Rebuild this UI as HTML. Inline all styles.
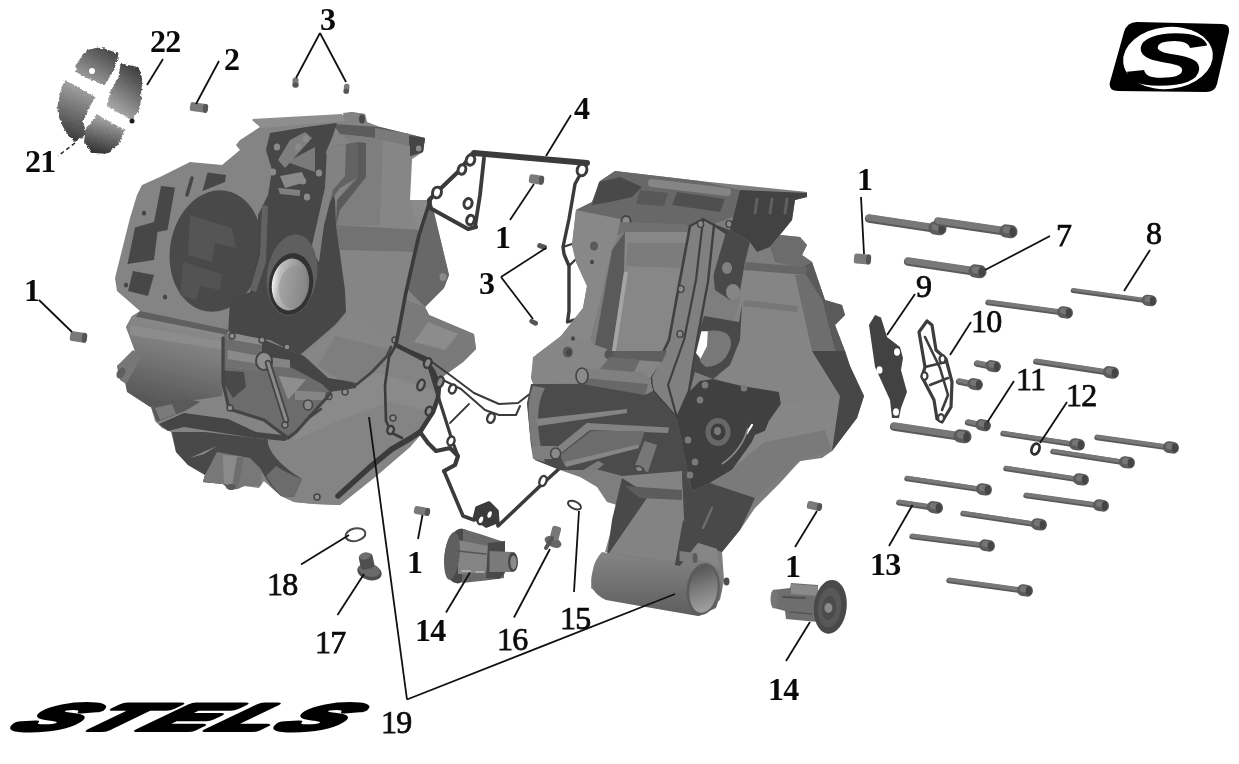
<!DOCTYPE html>
<html><head><meta charset="utf-8"><title>STELS crankcase diagram</title>
<style>
html,body{margin:0;padding:0;background:#fff;}
body{width:1239px;height:764px;overflow:hidden;position:relative;}
svg{display:block;position:absolute;left:0;top:0;}
.lb{font-family:"Liberation Serif",serif;fill:#0a0a0a;}
.logo{font-family:"Liberation Sans",sans-serif;font-weight:bold;font-style:italic;fill:#000;}
</style></head><body>
<svg width="1239" height="764" viewBox="0 0 1239 764">
<defs>
<filter id="b1" x="-5%" y="-5%" width="110%" height="110%"><feGaussianBlur stdDeviation="0.7"/></filter>
<filter id="b2" x="-5%" y="-5%" width="110%" height="110%"><feGaussianBlur stdDeviation="1.2"/></filter>
<linearGradient id="bear" x1="0" y1="0" x2="1" y2="0"><stop offset="0" stop-color="#f4f4f4"/><stop offset="0.18" stop-color="#bdbdbd"/><stop offset="1" stop-color="#7a7a7a"/></linearGradient>
<linearGradient id="tube" x1="0" y1="0" x2="0" y2="1"><stop offset="0" stop-color="#8a8a8a"/><stop offset="1" stop-color="#5e5e5e"/></linearGradient>
<linearGradient id="shell" gradientUnits="userSpaceOnUse" x1="60" y1="60" x2="140" y2="140"><stop offset="0" stop-color="#a8a8a8"/><stop offset="0.45" stop-color="#666"/><stop offset="1" stop-color="#1c1c1c"/></linearGradient>
<linearGradient id="sh1" gradientUnits="userSpaceOnUse" x1="105" y1="48" x2="85" y2="82"><stop offset="0" stop-color="#4a4a4a"/><stop offset="1" stop-color="#a0a0a0"/></linearGradient>
<linearGradient id="sh2" gradientUnits="userSpaceOnUse" x1="140" y1="68" x2="110" y2="108"><stop offset="0" stop-color="#3a3a3a"/><stop offset="1" stop-color="#a8a8a8"/></linearGradient>
<linearGradient id="sh3" gradientUnits="userSpaceOnUse" x1="85" y1="88" x2="66" y2="138"><stop offset="0" stop-color="#a2a2a2"/><stop offset="1" stop-color="#3c3c3c"/></linearGradient>
<linearGradient id="sh4" gradientUnits="userSpaceOnUse" x1="108" y1="118" x2="98" y2="154"><stop offset="0" stop-color="#a6a6a6"/><stop offset="1" stop-color="#303030"/></linearGradient>
<filter id="rough" x="-10%" y="-10%" width="120%" height="120%"><feTurbulence type="fractalNoise" baseFrequency="0.35" numOctaves="2" seed="3" result="n"/><feDisplacementMap in="SourceGraphic" in2="n" scale="4" xChannelSelector="R" yChannelSelector="G"/><feGaussianBlur stdDeviation="0.5"/></filter>
<linearGradient id="tubein" x1="0" y1="0" x2="0.3" y2="1"><stop offset="0" stop-color="#4e4e4e"/><stop offset="0.5" stop-color="#777"/><stop offset="1" stop-color="#9c9c9c"/></linearGradient>
<linearGradient id="lblock" gradientUnits="userSpaceOnUse" x1="190" y1="325" x2="170" y2="405"><stop offset="0" stop-color="#8a8a8a"/><stop offset="0.35" stop-color="#7c7c7c"/><stop offset="1" stop-color="#585858"/></linearGradient>
</defs>
<rect width="1239" height="764" fill="#fff"/>
<g id="leftcase" filter="url(#b1)">
<polygon points="252,120 300,117 345,115 350,112 365,114 367,122 380,127 425,138 423,152 412,159 410,200 431,200 449,275 444,288 425,307 429,315 455,326 474,334 476,349 463,362 441,378 440,395 434,412 422,433 410,447 375,477 340,505 314,504 294,502 281,496 264,481 259,488 244,486 238,489 230,490 223,484 203,482 205,475 188,465 176,452 171,432 162,428 155,421 151,407 128,390 125,382 120,378 117,366 135,351 126,327 132,316 140,311 117,291 115,278 130,218 137,195 142,185 160,177 190,162 222,165 240,150 236,145 240,140 260,127" fill="#848484" />
<polygon points="252,119 342,114 346,121 262,128" fill="#8e8e8e" />
<polygon points="333,124 380,127 425,138 423,152 410,156 409,146 375,138 340,134" fill="#5c5c5c" />
<polygon points="375,128 410,134 409,146 375,138" fill="#7a7a7a" />
<polygon points="409,136 425,138 423,152 410,156" fill="#444444" />
<ellipse cx="418.7" cy="148.5" rx="2.8" ry="3" fill="#8a8a8a" />
<polygon points="343,113 352,112 365,114 367,124 345,122" fill="#838383" />
<ellipse cx="362" cy="119" rx="3" ry="4.5" fill="#4a4a4a" />
<polygon points="340,134 375,138 383,140 380,225 336,225 337,200 352,180 360,150" fill="#7e7e7e" />
<polygon points="358,142 366,143 366,177 340,210 336,225 337,200 358,177" fill="#5a5a5a" />
<polygon points="383,140 410,146 410,200 419,230 380,225" fill="#868686" />
<polygon points="336,225 419,230 414,252 340,250" fill="#727272" />
<polygon points="340,250 414,252 406,292 396,345 346,312 345,290" fill="#858585" />
<polygon points="431,200 449,275 444,288 425,307 408,290 419,235" fill="#686868" />
<polygon points="410,200 431,200 419,235" fill="#8a8a8a" />
<ellipse cx="443" cy="277" rx="3.5" ry="4" fill="#8a8a8a" />
<ellipse cx="216" cy="251" rx="46" ry="61" fill="#494949" transform="rotate(9 216 251)" />
<polygon points="270,133 306,127 337,123 332,138 326,152 335,200 336,225 345,290 346,312 335,325 300,355 285,348 270,340 228,335 230,300 250,292 258,250 258,215 268,195 272,170 266,150" fill="#474747" />
<polygon points="190,215 232,228 236,248 215,243 212,262 188,255" fill="#555555" />
<polygon points="183,262 222,274 220,290 200,286 196,300 180,295" fill="#535353" />
<polygon points="327,152 333,146 358,142 358,177 340,188 329,203 320,240 319,262 311,250 316,228 325,188" fill="#626262" />
<polygon points="327,152 333,146 346,144 345,176 333,190 324,225 319,262 311,250 316,228 325,188" fill="#828282" />
<polygon points="262,205 268,206 266,262 256,292 250,290 260,255" fill="#626262" />
<polygon points="287,162 315,147 315,172" fill="#7a7a7a" />
<polygon points="290,140 305,132 312,138 285,168 278,160" fill="#7e7e7e" />
<polygon points="280,176 302,172 306,182 285,188" fill="#8a8a8a" />
<polygon points="278,188 300,190 300,196 280,194" fill="#808080" />
<ellipse cx="277" cy="147" rx="3.2" ry="3.6" fill="#8a8a8a" />
<ellipse cx="298" cy="147" rx="3.2" ry="3.6" fill="#8a8a8a" />
<ellipse cx="306" cy="139" rx="3.2" ry="3.6" fill="#8a8a8a" />
<ellipse cx="273" cy="172" rx="3.2" ry="3.6" fill="#8a8a8a" />
<ellipse cx="303" cy="181" rx="3.2" ry="3.6" fill="#8a8a8a" />
<ellipse cx="307" cy="197" rx="3.2" ry="3.6" fill="#8a8a8a" />
<ellipse cx="319" cy="173" rx="3.2" ry="3.6" fill="#8a8a8a" />
<ellipse cx="292" cy="275" rx="25" ry="41" fill="#5e5e5e" transform="rotate(8 292 275)" />
<ellipse cx="291" cy="284" rx="22" ry="31" fill="#333333" transform="rotate(8 291 284)" />
<ellipse cx="290.5" cy="284.5" rx="18.6" ry="26" fill="url(#bear)" transform="rotate(8 290.5 284.5)" />
<ellipse cx="293" cy="287" rx="14" ry="21" fill="#8e8e8e" transform="rotate(8 293 287)" opacity="0.5"/>
<polygon points="161,186 175,187.5 167.5,230 157.5,232 154,260 127.5,264 135,227.5 154,222" fill="#474747" />
<polygon points="133,271 154,275 148,296 128,291" fill="#474747" />
<polygon points="207.5,172.5 226,175 225,182 202.5,191" fill="#474747" />
<polyline points="192,178 187,195" fill="none" stroke="#474747" stroke-width="3.5" stroke-linejoin="round" stroke-linecap="round" />
<ellipse cx="144" cy="213" rx="2.2" ry="2.5" fill="#474747" />
<ellipse cx="126" cy="285" rx="2.2" ry="2.5" fill="#474747" />
<ellipse cx="165" cy="297" rx="2.2" ry="2.5" fill="#474747" />
<ellipse cx="168" cy="199" rx="2.2" ry="2.5" fill="#474747" />
<polygon points="140,311 230,330 228,336 135,318" fill="#5e5e5e" />
<polygon points="132,316 228,335 225,353 222,396 150,407 127,392 125,382 135,351 126,327" fill="url(#lblock)" />
<polygon points="130,325 226,342 225,350 130,335" fill="#8c8c8c" />
<polygon points="117,366 133,350 142,356 126,384 120,380" fill="#777777" />
<ellipse cx="121" cy="373" rx="4" ry="6" fill="#606060" transform="rotate(30 121 373)" />
<polygon points="288,441 296,432 330,392 356,386 387,356 396,345 410,366 441,378 440,395 434,412 422,433 410,447 375,477 340,505 314,504 294,502 281,496 264,481" fill="#848484" />
<polygon points="296,432 330,392 356,386 372,372 396,378 438,392 434,412 390,402 340,420 292,442" fill="#8a8a8a" />
<polygon points="304,356 346.5,317 346,312 396,345 391,347 387,356 372,372 356,383 347,381 328,378" fill="#868686" />
<polygon points="335,336 392,350 387,356 372,372 356,383 340,380 318,366" fill="#7e7e7e" />
<polygon points="224,334 262,339 304,356 328,378 330,392 296,432 288,438 264,420 229,409 223,383 223,338" fill="#6c6c6c" />
<polygon points="262,339 304,356 328,378 347,381 356,383 356,388 330,392 322,384 300,372 290,367 273,358 262,352" fill="#454545" />
<polygon points="227.5,332 262,339 262,345 227.5,339" fill="#8c8c8c" />
<polygon points="227.5,350 260,356 259,371 227.5,367" fill="#8a8a8a" />
<polygon points="227.5,359 260,364 259,371 227.5,367" fill="#707070" />
<ellipse cx="264" cy="361" rx="8" ry="9" fill="#8e8e8e" stroke="#444" stroke-width="2"/>
<polygon points="273,357.5 290,360 290,368 273,366.5" fill="#848484" />
<polygon points="223.8,370.5 244,372 245.8,387 233,398 223.8,383" fill="#484848" />
<polyline points="268,363 286,420" fill="none" stroke="#444" stroke-width="6.5" stroke-linejoin="round" stroke-linecap="round" />
<polyline points="268,363 286,420" fill="none" stroke="#8a8a8a" stroke-width="3" stroke-linejoin="round" stroke-linecap="round" />
<polygon points="278.8,376 306,379.6 288,399.8" fill="#8e8e8e" />
<polygon points="295,390.6 328,392.4 327,400 295,400" fill="#858585" />
<ellipse cx="329" cy="396" rx="3" ry="3.5" fill="#909090" stroke="#444" stroke-width="1.4"/>
<polyline points="223,338 223,383 229,409 264,420 288,438 296,432 330,394" fill="none" stroke="#444444" stroke-width="3.2" stroke-linejoin="round" stroke-linecap="round" />
<polyline points="356,385 372,372 387,356 391,347" fill="none" stroke="#444444" stroke-width="2.8" stroke-linejoin="round" stroke-linecap="round" />
<ellipse cx="308" cy="405" rx="4.5" ry="5" fill="#8a8a8a" stroke="#444" stroke-width="1.6"/>
<polyline points="306,420 321,409" fill="none" stroke="#444" stroke-width="2.5" stroke-linejoin="round" stroke-linecap="round" />
<polygon points="159,424 184,413 228,419 256,432 291,436 285,441 255,438 184,427 168,431" fill="#444444" />
<polygon points="151,407 185,398 200,402 185,411 157,422" fill="#5a5a5a" />
<polygon points="155,408 172,404 176,414 160,420" fill="#7a7a7a" />
<polygon points="172,432 205,432 256,438 268,440 262,462 260,486 244,486 230,490 223,484 203,482 205,475 188,465 176,452" fill="#4a4a4a" />
<polygon points="190,458 217,446 204,454" fill="#8c8c8c" />
<polygon points="205,475 217,452 250,458 262,470 260,486 244,486 236,489 223,484 203,482" fill="#787878" />
<polygon points="222.7,455 244,457 237,488 224,483" fill="#8a8a8a" />
<polygon points="237,457 244,457 238,488 232,487" fill="#6e6e6e" />
<ellipse cx="231" cy="487" rx="5" ry="3" fill="#5a5a5a" />
<path d="M254,444 L267,438 Q268,458 302,479 L294,497 L281,496 Q258,476 254,444 Z" fill="#4a4a4a"/>
<path d="M276,466 Q288,474 302,479 L294,497 L281,496 Q272,486 266,476 Z" fill="#6c6c6c"/>
<ellipse cx="395" cy="340" rx="3" ry="3" fill="#8c8c8c" stroke="#454545" stroke-width="1.5"/>
<ellipse cx="393" cy="418" rx="3" ry="3" fill="#8c8c8c" stroke="#454545" stroke-width="1.5"/>
<ellipse cx="317" cy="497" rx="3" ry="3" fill="#8c8c8c" stroke="#454545" stroke-width="1.5"/>
<ellipse cx="345" cy="392" rx="3" ry="3" fill="#8c8c8c" stroke="#454545" stroke-width="1.5"/>
<ellipse cx="232" cy="336" rx="3" ry="3" fill="#8c8c8c" stroke="#454545" stroke-width="1.5"/>
<ellipse cx="262" cy="340" rx="3" ry="3" fill="#8c8c8c" stroke="#454545" stroke-width="1.5"/>
<ellipse cx="230" cy="408" rx="3" ry="3" fill="#8c8c8c" stroke="#454545" stroke-width="1.5"/>
<ellipse cx="285" cy="425" rx="3" ry="3" fill="#8c8c8c" stroke="#454545" stroke-width="1.5"/>
<ellipse cx="287" cy="347" rx="3" ry="3" fill="#8c8c8c" stroke="#454545" stroke-width="1.5"/>
<polygon points="425,307 429,315 455,326 474,334 476,349 463,362 441,378 425,360 396,345 406,300" fill="#7a7a7a" />
<polygon points="428,322 458,334 445,350 414,342" fill="#8c8c8c" />
</g>
<g id="gasket" filter="url(#b1)">
<polyline points="474,153 587,163" fill="none" stroke="#3a3a3a" stroke-width="6" stroke-linejoin="round" stroke-linecap="round" />
<polyline points="581.5,172 575,184 569,219 563,247 564,254 569,266 569,311 567.5,322 574,320" fill="none" stroke="#3a3a3a" stroke-width="3.4" stroke-linejoin="round" stroke-linecap="round" />
<polyline points="569,266 581,254" fill="none" stroke="#3a3a3a" stroke-width="2.4" stroke-linejoin="round" stroke-linecap="round" />
<polyline points="563,247 572,244" fill="none" stroke="#3a3a3a" stroke-width="2" stroke-linejoin="round" stroke-linecap="round" />
<polyline points="484,158 480,195 475,227" fill="none" stroke="#3a3a3a" stroke-width="3.8" stroke-linejoin="round" stroke-linecap="round" />
<polyline points="472,154 460,170 437,192 429,200 430,208 468,229 476,227" fill="none" stroke="#3a3a3a" stroke-width="4.2" stroke-linejoin="round" stroke-linecap="round" />
<polyline points="431,198 419,235 406,292 396,345" fill="none" stroke="#3a3a3a" stroke-width="3.6" stroke-linejoin="round" stroke-linecap="round" />
<ellipse cx="470.5" cy="160" rx="4.2" ry="5.2" fill="#fff" transform="rotate(15 470.5 160)" stroke="#3a3a3a" stroke-width="3"/>
<ellipse cx="462" cy="169.5" rx="3.8" ry="4.8" fill="#fff" transform="rotate(15 462 169.5)" stroke="#3a3a3a" stroke-width="3"/>
<ellipse cx="437" cy="192.5" rx="4.4" ry="5.4" fill="#fff" transform="rotate(15 437 192.5)" stroke="#3a3a3a" stroke-width="3"/>
<ellipse cx="468" cy="203.5" rx="4" ry="5" fill="#fff" transform="rotate(15 468 203.5)" stroke="#3a3a3a" stroke-width="3"/>
<ellipse cx="470.5" cy="220" rx="3.8" ry="4.8" fill="#fff" transform="rotate(15 470.5 220)" stroke="#3a3a3a" stroke-width="3"/>
<ellipse cx="582" cy="170" rx="4.8" ry="5.8" fill="#fff" transform="rotate(15 582 170)" stroke="#3a3a3a" stroke-width="3"/>
<polyline points="338,496 370,467 392,449 411,438 420,432" fill="none" stroke="#3a3a3a" stroke-width="5.5" stroke-linejoin="round" stroke-linecap="round" />
<polyline points="420,432 433,412 438,398 439,385 433,371 425,360 396,345" fill="none" stroke="#3a3a3a" stroke-width="4.6" stroke-linejoin="round" stroke-linecap="round" />
<polyline points="396,345 389,357 385,385 386,421 392,433 402,438" fill="none" stroke="#3a3a3a" stroke-width="2.6" stroke-linejoin="round" stroke-linecap="round" />
<polyline points="396,345 425,357 450,375 474,393 499,404 518,403 531,393" fill="none" stroke="#3a3a3a" stroke-width="2" stroke-linejoin="round" stroke-linecap="round" />
<polyline points="441,379 461,389 485,410 499,415 516,415 520,406" fill="none" stroke="#3a3a3a" stroke-width="2" stroke-linejoin="round" stroke-linecap="round" />
<polyline points="420,432 428,443 436,451 450,448 458,456 455,465 444,471" fill="none" stroke="#3a3a3a" stroke-width="4.2" stroke-linejoin="round" stroke-linecap="round" />
<polyline points="428,363 439,399 452,440 458,456" fill="none" stroke="#3a3a3a" stroke-width="3.2" stroke-linejoin="round" stroke-linecap="round" />
<polyline points="450,423 469,404" fill="none" stroke="#3a3a3a" stroke-width="1.8" stroke-linejoin="round" stroke-linecap="round" />
<polyline points="444,471 463,516 474,520 477,508 489,503 497,511 498,526 540,486 560,468" fill="none" stroke="#3a3a3a" stroke-width="3.6" stroke-linejoin="round" stroke-linecap="round" />
<polygon points="476,507 489,502 498,511 499,523 486,528 474,520" fill="#3a3a3a" />
<ellipse cx="427.7" cy="363" rx="3.6" ry="5" fill="#8c8c8c" transform="rotate(20 427.7 363)" stroke="#3a3a3a" stroke-width="2.4"/>
<ellipse cx="421" cy="385" rx="3.4" ry="5.5" fill="#8c8c8c" transform="rotate(20 421 385)" stroke="#3a3a3a" stroke-width="2.4"/>
<ellipse cx="440" cy="382" rx="3.4" ry="5.5" fill="#8c8c8c" transform="rotate(20 440 382)" stroke="#3a3a3a" stroke-width="2.4"/>
<ellipse cx="429" cy="411" rx="3.2" ry="4.4" fill="#8c8c8c" transform="rotate(20 429 411)" stroke="#3a3a3a" stroke-width="2.4"/>
<ellipse cx="390.6" cy="430" rx="3.2" ry="4.2" fill="#8c8c8c" transform="rotate(20 390.6 430)" stroke="#3a3a3a" stroke-width="2.4"/>
<ellipse cx="452.5" cy="389" rx="3.4" ry="4.6" fill="#fff" transform="rotate(20 452.5 389)" stroke="#3a3a3a" stroke-width="2.4"/>
<ellipse cx="491" cy="418" rx="3.6" ry="5" fill="#fff" transform="rotate(20 491 418)" stroke="#3a3a3a" stroke-width="2.4"/>
<ellipse cx="451" cy="441" rx="3.4" ry="4.6" fill="#fff" transform="rotate(20 451 441)" stroke="#3a3a3a" stroke-width="2.4"/>
<ellipse cx="543" cy="481" rx="3.4" ry="5.2" fill="#fff" transform="rotate(20 543 481)" stroke="#3a3a3a" stroke-width="2.4"/>
<ellipse cx="481" cy="519.7" rx="3.2" ry="4.6" fill="#fff" transform="rotate(20 481 519.7)" stroke="#3a3a3a" stroke-width="2.4"/>
<ellipse cx="489.6" cy="514.5" rx="3.2" ry="4.6" fill="#fff" transform="rotate(20 489.6 514.5)" stroke="#3a3a3a" stroke-width="2.4"/>
</g>
<g id="rightcase" filter="url(#b1)">
<polygon points="615,171 700,181 807,192 807,197 795,200 792,220 780,235 800,237 807,245 802,255 812,262 825,300 842,305 845,315 835,325 845,351 850,366 864,396 857,418 832,451 822,458 800,461 780,483 755,508 740,530 722,552 724,580 720,600 700,616 640,603 600,595 591,588 592,575 597,560 607,555 617,505 607,502 597,487 580,477 560,470 535,460 531,445 527,403 535,386 531,378 536,355 561,336 583,308 587,286 576,262 572,245 576,210 592,202 600,181" fill="#7e7e7e" />
<polygon points="600,181 615,171 700,181 740,190 738,215 714,224 703,218 690,225 620,222 576,210 592,202" fill="#686868" />
<polygon points="599,182 620,177 642,187 632,197 610,202 592,205" fill="#4a4a4a" />
<polyline points="652,183 727,192" fill="none" stroke="#858585" stroke-width="8" stroke-linejoin="round" stroke-linecap="round" />
<polygon points="677,192 725,199 720,212 672,205" fill="#505050" />
<polygon points="640,190 668,193 664,206 636,204" fill="#585858" />
<polygon points="740,190 807,193 807,197 795,200 792,220 770,247 757,252 750,242 730,230 735,210" fill="#424242" />
<polyline points="757,199 755,213" fill="none" stroke="#5e5e5e" stroke-width="3" stroke-linejoin="round" stroke-linecap="round" />
<polyline points="772,199 770,213" fill="none" stroke="#5e5e5e" stroke-width="3" stroke-linejoin="round" stroke-linecap="round" />
<polyline points="787,199 785,213" fill="none" stroke="#5e5e5e" stroke-width="3" stroke-linejoin="round" stroke-linecap="round" />
<polygon points="714,224 730,230 750,242 745,262 740,290 730,300 715,290 712,260 722,236" fill="#484848" />
<polygon points="576,210 625,220 612,250 600,300 590,340 565,350 540,372 531,378 536,355 561,336 583,308 587,286 576,262 572,245" fill="#888888" />
<ellipse cx="594" cy="246" rx="4" ry="4.5" fill="#5a5a5a" />
<ellipse cx="592" cy="262" rx="2" ry="2.2" fill="#444" />
<ellipse cx="626" cy="221" rx="4.5" ry="5" fill="#8c8c8c" stroke="#444" stroke-width="2"/>
<polygon points="625,232 690,232 677,285 667,351 610,351 622,272" fill="#878787" />
<polygon points="595,345 612,250 625,232 624,272 612,351" fill="#5a5a5a" />
<polygon points="624,272 628,272 616,351 612,351" fill="#a5a5a5" />
<polygon points="620,222 690,225 690,232 625,232 617,235" fill="#707070" />
<polygon points="628,243 688,243 682,268 626,266" fill="#7b7b7b" />
<polygon points="690,225 703,218 714,224 726,232 712,280 700,340 690,391 677,418 653,391 650,379 669,340 680,280" fill="#808080" />
<polyline points="690,226 680,280 669,340 650,379 653,391 677,418" fill="none" stroke="#404040" stroke-width="2.6" stroke-linejoin="round" stroke-linecap="round" />
<polyline points="703,220 696,280 684,340 668,385 677,418" fill="none" stroke="#404040" stroke-width="2.2" stroke-linejoin="round" stroke-linecap="round" />
<polyline points="714,225 708,282 698,335 689,391 677,418" fill="none" stroke="#404040" stroke-width="2.4" stroke-linejoin="round" stroke-linecap="round" />
<polyline points="690,226 703,219 714,225 726,233" fill="none" stroke="#404040" stroke-width="2.4" stroke-linejoin="round" stroke-linecap="round" />
<ellipse cx="700.6" cy="224" rx="3" ry="3.4" fill="#8a8a8a" stroke="#404040" stroke-width="1.4"/>
<ellipse cx="729" cy="224" rx="3" ry="3.4" fill="#8a8a8a" stroke="#404040" stroke-width="1.4"/>
<ellipse cx="681" cy="289" rx="3" ry="3.4" fill="#8a8a8a" stroke="#404040" stroke-width="1.4"/>
<ellipse cx="680" cy="334" rx="3" ry="3.4" fill="#8a8a8a" stroke="#404040" stroke-width="1.4"/>
<ellipse cx="649" cy="381" rx="3" ry="3.4" fill="#8a8a8a" stroke="#404040" stroke-width="1.4"/>
<ellipse cx="681" cy="424" rx="3" ry="3.4" fill="#8a8a8a" stroke="#404040" stroke-width="1.4"/>
<polygon points="745,262 807,267 825,300 835,351 776,394 717,383 740,300" fill="#858585" />
<polygon points="800,268 812,262 825,300 842,305 845,315 835,325 845,351 835,351 822,300" fill="#5a5a5a" />
<polygon points="745,262 807,267 806,275 744,270" fill="#666666" />
<polygon points="795,275 806,275 822,300 835,351 812,351" fill="#6e6e6e" />
<polygon points="744,300 798,306 797,312 743,306" fill="#777777" />
<polygon points="780,235 800,237 807,245 802,255 812,262 800,268 775,262 770,247" fill="#6c6c6c" />
<polygon points="704,316 739,322 742,304 740,340 730,365 713,379 695,372 690,391 698,335" fill="#484848" />
<path d="M707,331 Q732,328 731,345 Q726,366 706,367 Q698,362 700,355 Z" fill="#787878"/>
<polygon points="701.4,331.3 707.8,331.3 707,346 700.5,358.8 696,353" fill="#ffffff" />
<ellipse cx="733" cy="292" rx="7" ry="8" fill="#858585" />
<ellipse cx="727" cy="268" rx="5" ry="6" fill="#808080" />
<polygon points="531,378 533,357 565,337 590,340 595,345 612,351 667,351 650,379 653,391 645,395 582,383 533,384" fill="#868686" />
<polygon points="612,351 667,351 662,362 612,358" fill="#5e5e5e" />
<ellipse cx="567.8" cy="352" rx="5" ry="5.5" fill="#5a5a5a" />
<ellipse cx="569" cy="352.5" rx="2.8" ry="3.2" fill="#444" />
<ellipse cx="609" cy="354.5" rx="4.5" ry="5" fill="#555" />
<ellipse cx="573" cy="338.5" rx="2" ry="2.2" fill="#444" />
<polygon points="584.5,368 644.6,372 650,379 653,391 645,395 584,386" fill="#808080" />
<polygon points="584.5,378 648,384 645,395 584,386" fill="#686868" />
<polygon points="610,357 640,360 634,372 600,369" fill="#6a6a6a" />
<ellipse cx="582" cy="376" rx="6" ry="8" fill="#8a8a8a" stroke="#444" stroke-width="1.6"/>
<polygon points="527,403 531,384 582,384 645,395 653,391 677,418 684,455 692,491 622,476 600,470 560,470 535,460 531,445" fill="#4c4c4c" />
<path d="M533,386 Q527,400 529,420 Q530,445 536,460 L545,462 Q538,440 538,420 Q538,400 545,388 Z" fill="#7a7a7a"/>
<polygon points="535.6,419 626.8,409 627,413 537.8,426" fill="#848484" />
<polygon points="586.8,423 669,427.5 668,433 590,430 561,453 555,449" fill="#828282" />
<polygon points="591,431 644.6,431 640,446 564.5,465.7 560,455" fill="#6c6c6c" />
<polygon points="564.5,462 638,444.5 639,448 566,467" fill="#868686" />
<polygon points="531,446 557,446 559,459 533,459" fill="#7e7e7e" />
<ellipse cx="555.6" cy="453.5" rx="5" ry="5.5" fill="#8a8a8a" stroke="#444" stroke-width="1.5"/>
<polygon points="580,472 598,461 604,464 590,476" fill="#7c7c7c" />
<polygon points="644.6,441 657,445 648,472 634,468" fill="#777777" />
<ellipse cx="639" cy="469" rx="6" ry="3.5" fill="#4a4a4a" transform="rotate(20 639 469)" />
<ellipse cx="639" cy="469" rx="3" ry="1.8" fill="#888" transform="rotate(20 639 469)" />
<polygon points="677,418 690,391 700,381 713,379 742,386 779,392 781,404 769,421 765,431 755,435 752,442 732,470 710,483 692,491 684,455" fill="#414141" />
<ellipse cx="718" cy="432" rx="12.5" ry="14" fill="#686868" />
<ellipse cx="718" cy="432" rx="7.5" ry="8.5" fill="#3c3c3c" />
<ellipse cx="717.5" cy="431" rx="3.5" ry="4" fill="#7a7a7a" />
<ellipse cx="700" cy="400" rx="3.3" ry="3.6" fill="#7a7a7a" />
<ellipse cx="688" cy="440" rx="3.3" ry="3.6" fill="#7a7a7a" />
<ellipse cx="695" cy="462" rx="3.3" ry="3.6" fill="#7a7a7a" />
<ellipse cx="690" cy="475" rx="3.3" ry="3.6" fill="#7a7a7a" />
<ellipse cx="744" cy="388" rx="3.3" ry="3.6" fill="#7a7a7a" />
<ellipse cx="705" cy="385" rx="3.3" ry="3.6" fill="#7a7a7a" />
<polyline points="747,433 752,425" fill="none" stroke="#fff" stroke-width="2.2" stroke-linejoin="round" stroke-linecap="round" />
<polygon points="776,394 835,351 812,351 840,396 781,404 779,392" fill="#858585" />
<polygon points="769,421 781,404 840,396 832,451 800,461 755,498 710,483 732,470 752,442 755,435 765,431" fill="#868686" />
<polygon points="740,462 765,442 825,430 832,451 800,461 755,498 710,483 732,470" fill="#7a7a7a" />
<path d="M748,428 Q742,450 722,464" fill="none" stroke="#8a8a8a" stroke-width="1.6"/>
<polygon points="812,351 835,351 845,351 850,366 864,396 857,418 832,451 840,396" fill="#464646" />
<polygon points="622,476 682,471 685,542 677,562 605,552 614,520" fill="#838383" />
<polygon points="622,478 649,495 607,556 612,520" fill="#4a4a4a" />
<polygon points="683,520 674,570 680,566 698,543 700,545" fill="#4a4a4a" />
<polygon points="625,486 682,490 682,500 640,498" fill="#5c5c5c" />
<polygon points="682,471 692,491 710,483 755,498 740,530 722,552 700,545 685,542" fill="#484848" />
<polyline points="712,508 703,528" fill="none" stroke="#6c6c6c" stroke-width="2.5" stroke-linejoin="round" stroke-linecap="round" />
<path d="M602,552 L680,566 L698,543 L717,549 L719,569 L722,590 L716,608 L698,616 L640,606 L606,600 Q588,592 592,574 Q594,560 602,552 Z" fill="url(#tube)"/>
<polygon points="698,543 717,549 719,569 710,562 696,560" fill="#868686" />
<ellipse cx="703" cy="589" rx="16.4" ry="26" fill="#5c5c5c" transform="rotate(8 703 589)" />
<ellipse cx="703.5" cy="589.5" rx="14" ry="23.5" fill="url(#tubein)" transform="rotate(8 703.5 589.5)" />
<polygon points="679.5,551 695,553 695,563 679.5,561" fill="#7c7c7c" />
<ellipse cx="695" cy="558" rx="2.5" ry="5" fill="#5a5a5a" />
<ellipse cx="726.5" cy="581.5" rx="3" ry="4" fill="#505050" />
</g>
<g id="bolts" filter="url(#b1)">
<line x1="868.896" y1="218.692" x2="941.896" y2="229.692" stroke="#5a5a5a" stroke-width="8" stroke-linecap="round"/>
<line x1="869.075" y1="217.506" x2="942.075" y2="228.506" stroke="#787878" stroke-width="6.6" stroke-linecap="round"/>
<line x1="935.078" y1="227.957" x2="939.923" y2="228.687" stroke="#5c5c5c" stroke-width="13.3" stroke-linecap="round"/>
<line x1="935.257" y1="226.77" x2="939.41" y2="227.396" stroke="#747474" stroke-width="7" stroke-linecap="round"/>
<ellipse cx="941.654" cy="228.948" rx="3.36" ry="5.04" fill="#444"/>
<line x1="937.898" y1="221.693" x2="1012.9" y2="232.693" stroke="#5a5a5a" stroke-width="8" stroke-linecap="round"/>
<line x1="938.073" y1="220.505" x2="1013.07" y2="231.505" stroke="#787878" stroke-width="6.6" stroke-linecap="round"/>
<line x1="1006.07" y1="230.984" x2="1010.92" y2="231.695" stroke="#5c5c5c" stroke-width="13.3" stroke-linecap="round"/>
<line x1="1006.25" y1="229.797" x2="1010.4" y2="230.406" stroke="#747474" stroke-width="7" stroke-linecap="round"/>
<ellipse cx="1012.65" cy="231.949" rx="3.36" ry="5.04" fill="#444"/>
<line x1="907.897" y1="261.692" x2="981.897" y2="272.692" stroke="#5a5a5a" stroke-width="8" stroke-linecap="round"/>
<line x1="908.074" y1="260.505" x2="982.074" y2="271.505" stroke="#787878" stroke-width="6.6" stroke-linecap="round"/>
<line x1="975.076" y1="270.971" x2="979.923" y2="271.691" stroke="#5c5c5c" stroke-width="13.3" stroke-linecap="round"/>
<line x1="975.253" y1="269.784" x2="979.407" y2="270.401" stroke="#747474" stroke-width="7" stroke-linecap="round"/>
<ellipse cx="981.654" cy="271.949" rx="3.36" ry="5.04" fill="#444"/>
<line x1="987.906" y1="302.694" x2="1068.91" y2="313.694" stroke="#5a5a5a" stroke-width="5.2" stroke-linecap="round"/>
<line x1="988.067" y1="301.505" x2="1069.07" y2="312.505" stroke="#787878" stroke-width="3.8" stroke-linecap="round"/>
<line x1="1062.86" y1="312.166" x2="1067.16" y2="312.75" stroke="#5c5c5c" stroke-width="11.78" stroke-linecap="round"/>
<line x1="1063.02" y1="310.977" x2="1066.7" y2="311.477" stroke="#747474" stroke-width="6.2" stroke-linecap="round"/>
<ellipse cx="1068.69" cy="312.958" rx="2.976" ry="4.464" fill="#444"/>
<line x1="1072.9" y1="290.693" x2="1152.9" y2="301.693" stroke="#5a5a5a" stroke-width="4.6" stroke-linecap="round"/>
<line x1="1073.07" y1="289.505" x2="1153.07" y2="300.505" stroke="#787878" stroke-width="3.2" stroke-linecap="round"/>
<line x1="1147.25" y1="300.21" x2="1151.28" y2="300.763" stroke="#5c5c5c" stroke-width="11.02" stroke-linecap="round"/>
<line x1="1147.42" y1="299.021" x2="1150.87" y2="299.495" stroke="#747474" stroke-width="5.8" stroke-linecap="round"/>
<ellipse cx="1152.71" cy="300.96" rx="2.784" ry="4.176" fill="#444"/>
<line x1="1035.89" y1="361.692" x2="1114.89" y2="373.692" stroke="#5a5a5a" stroke-width="5.5" stroke-linecap="round"/>
<line x1="1036.08" y1="360.506" x2="1115.08" y2="372.506" stroke="#787878" stroke-width="4.1" stroke-linecap="round"/>
<line x1="1108.77" y1="372.054" x2="1113.13" y2="372.716" stroke="#5c5c5c" stroke-width="11.97" stroke-linecap="round"/>
<line x1="1108.95" y1="370.867" x2="1112.69" y2="371.435" stroke="#747474" stroke-width="6.3" stroke-linecap="round"/>
<ellipse cx="1114.69" cy="372.953" rx="3.024" ry="4.536" fill="#444"/>
<line x1="893.896" y1="426.692" x2="966.896" y2="437.692" stroke="#5a5a5a" stroke-width="8" stroke-linecap="round"/>
<line x1="894.075" y1="425.506" x2="967.075" y2="436.506" stroke="#787878" stroke-width="6.6" stroke-linecap="round"/>
<line x1="960.078" y1="435.957" x2="964.923" y2="436.687" stroke="#5c5c5c" stroke-width="13.3" stroke-linecap="round"/>
<line x1="960.257" y1="434.77" x2="964.41" y2="435.396" stroke="#747474" stroke-width="7" stroke-linecap="round"/>
<ellipse cx="966.654" cy="436.948" rx="3.36" ry="5.04" fill="#444"/>
<line x1="1002.89" y1="433.692" x2="1080.89" y2="445.692" stroke="#5a5a5a" stroke-width="5.2" stroke-linecap="round"/>
<line x1="1003.08" y1="432.506" x2="1081.08" y2="444.506" stroke="#787878" stroke-width="3.8" stroke-linecap="round"/>
<line x1="1074.87" y1="444.057" x2="1079.16" y2="444.717" stroke="#5c5c5c" stroke-width="11.78" stroke-linecap="round"/>
<line x1="1075.05" y1="442.871" x2="1078.73" y2="443.437" stroke="#747474" stroke-width="6.2" stroke-linecap="round"/>
<ellipse cx="1080.69" cy="444.953" rx="2.976" ry="4.464" fill="#444"/>
<line x1="1096.9" y1="437.693" x2="1174.9" y2="448.693" stroke="#5a5a5a" stroke-width="5.2" stroke-linecap="round"/>
<line x1="1097.07" y1="436.505" x2="1175.07" y2="447.505" stroke="#787878" stroke-width="3.8" stroke-linecap="round"/>
<line x1="1168.86" y1="447.134" x2="1173.16" y2="447.74" stroke="#5c5c5c" stroke-width="11.78" stroke-linecap="round"/>
<line x1="1169.03" y1="445.946" x2="1172.71" y2="446.465" stroke="#747474" stroke-width="6.2" stroke-linecap="round"/>
<ellipse cx="1174.69" cy="447.957" rx="2.976" ry="4.464" fill="#444"/>
<line x1="1052.89" y1="451.692" x2="1130.89" y2="463.692" stroke="#5a5a5a" stroke-width="5.2" stroke-linecap="round"/>
<line x1="1053.08" y1="450.506" x2="1131.08" y2="462.506" stroke="#787878" stroke-width="3.8" stroke-linecap="round"/>
<line x1="1124.87" y1="462.057" x2="1129.16" y2="462.717" stroke="#5c5c5c" stroke-width="11.78" stroke-linecap="round"/>
<line x1="1125.05" y1="460.871" x2="1128.73" y2="461.437" stroke="#747474" stroke-width="6.2" stroke-linecap="round"/>
<ellipse cx="1130.69" cy="462.953" rx="2.976" ry="4.464" fill="#444"/>
<line x1="1005.89" y1="468.692" x2="1084.89" y2="480.692" stroke="#5a5a5a" stroke-width="5.2" stroke-linecap="round"/>
<line x1="1006.08" y1="467.506" x2="1085.08" y2="479.506" stroke="#787878" stroke-width="3.8" stroke-linecap="round"/>
<line x1="1078.87" y1="479.069" x2="1083.16" y2="479.721" stroke="#5c5c5c" stroke-width="11.78" stroke-linecap="round"/>
<line x1="1079.05" y1="477.883" x2="1082.73" y2="478.441" stroke="#747474" stroke-width="6.2" stroke-linecap="round"/>
<ellipse cx="1084.69" cy="479.953" rx="2.976" ry="4.464" fill="#444"/>
<line x1="906.897" y1="478.692" x2="987.897" y2="490.692" stroke="#5a5a5a" stroke-width="5.2" stroke-linecap="round"/>
<line x1="907.073" y1="477.505" x2="988.073" y2="489.505" stroke="#787878" stroke-width="3.8" stroke-linecap="round"/>
<line x1="981.867" y1="489.091" x2="986.16" y2="489.727" stroke="#5c5c5c" stroke-width="11.78" stroke-linecap="round"/>
<line x1="982.043" y1="487.904" x2="985.723" y2="488.45" stroke="#747474" stroke-width="6.2" stroke-linecap="round"/>
<ellipse cx="987.693" cy="489.955" rx="2.976" ry="4.464" fill="#444"/>
<line x1="898.896" y1="502.692" x2="938.896" y2="508.692" stroke="#5a5a5a" stroke-width="5.5" stroke-linecap="round"/>
<line x1="899.074" y1="501.506" x2="939.074" y2="507.506" stroke="#787878" stroke-width="4.1" stroke-linecap="round"/>
<line x1="932.77" y1="507.065" x2="937.131" y2="507.72" stroke="#5c5c5c" stroke-width="11.97" stroke-linecap="round"/>
<line x1="932.948" y1="505.879" x2="936.686" y2="506.439" stroke="#747474" stroke-width="6.3" stroke-linecap="round"/>
<ellipse cx="938.688" cy="507.953" rx="3.024" ry="4.536" fill="#444"/>
<line x1="962.896" y1="513.692" x2="1042.9" y2="525.692" stroke="#5a5a5a" stroke-width="5.2" stroke-linecap="round"/>
<line x1="963.074" y1="512.506" x2="1043.07" y2="524.506" stroke="#787878" stroke-width="3.8" stroke-linecap="round"/>
<line x1="1036.87" y1="524.08" x2="1041.16" y2="524.724" stroke="#5c5c5c" stroke-width="11.78" stroke-linecap="round"/>
<line x1="1037.05" y1="522.894" x2="1040.73" y2="523.445" stroke="#747474" stroke-width="6.2" stroke-linecap="round"/>
<ellipse cx="1042.69" cy="524.954" rx="2.976" ry="4.464" fill="#444"/>
<line x1="1025.9" y1="495.693" x2="1104.9" y2="506.693" stroke="#5a5a5a" stroke-width="5.2" stroke-linecap="round"/>
<line x1="1026.07" y1="494.505" x2="1105.07" y2="505.505" stroke="#787878" stroke-width="3.8" stroke-linecap="round"/>
<line x1="1098.86" y1="505.145" x2="1103.16" y2="505.743" stroke="#5c5c5c" stroke-width="11.78" stroke-linecap="round"/>
<line x1="1099.02" y1="503.956" x2="1102.71" y2="504.469" stroke="#747474" stroke-width="6.2" stroke-linecap="round"/>
<ellipse cx="1104.69" cy="505.957" rx="2.976" ry="4.464" fill="#444"/>
<line x1="911.912" y1="536.694" x2="990.912" y2="546.694" stroke="#5a5a5a" stroke-width="5.2" stroke-linecap="round"/>
<line x1="912.063" y1="535.504" x2="991.063" y2="545.504" stroke="#787878" stroke-width="3.8" stroke-linecap="round"/>
<line x1="984.849" y1="545.221" x2="989.155" y2="545.766" stroke="#5c5c5c" stroke-width="11.78" stroke-linecap="round"/>
<line x1="985" y1="544.031" x2="988.69" y2="544.498" stroke="#747474" stroke-width="6.2" stroke-linecap="round"/>
<ellipse cx="990.692" cy="545.961" rx="2.976" ry="4.464" fill="#444"/>
<line x1="948.905" y1="580.693" x2="1028.9" y2="591.693" stroke="#5a5a5a" stroke-width="5.2" stroke-linecap="round"/>
<line x1="949.068" y1="579.505" x2="1029.07" y2="590.505" stroke="#787878" stroke-width="3.8" stroke-linecap="round"/>
<line x1="1022.86" y1="590.155" x2="1027.16" y2="590.747" stroke="#5c5c5c" stroke-width="11.78" stroke-linecap="round"/>
<line x1="1023.02" y1="588.967" x2="1026.71" y2="589.473" stroke="#747474" stroke-width="6.2" stroke-linecap="round"/>
<ellipse cx="1028.69" cy="590.958" rx="2.976" ry="4.464" fill="#444"/>
<line x1="976.863" y1="363.686" x2="996.863" y2="367.686" stroke="#5a5a5a" stroke-width="6" stroke-linecap="round"/>
<line x1="977.098" y1="362.51" x2="997.098" y2="366.51" stroke="#787878" stroke-width="4.6" stroke-linecap="round"/>
<line x1="991.117" y1="365.823" x2="995.235" y2="366.647" stroke="#5c5c5c" stroke-width="11.4" stroke-linecap="round"/>
<line x1="991.352" y1="364.647" x2="994.882" y2="365.353" stroke="#747474" stroke-width="6" stroke-linecap="round"/>
<ellipse cx="996.706" cy="366.941" rx="2.88" ry="4.32" fill="#444"/>
<line x1="958.863" y1="381.686" x2="978.863" y2="385.686" stroke="#5a5a5a" stroke-width="6" stroke-linecap="round"/>
<line x1="959.098" y1="380.51" x2="979.098" y2="384.51" stroke="#787878" stroke-width="4.6" stroke-linecap="round"/>
<line x1="973.117" y1="383.823" x2="977.235" y2="384.647" stroke="#5c5c5c" stroke-width="11.4" stroke-linecap="round"/>
<line x1="973.352" y1="382.647" x2="976.882" y2="383.353" stroke="#747474" stroke-width="6" stroke-linecap="round"/>
<ellipse cx="978.706" cy="384.941" rx="2.88" ry="4.32" fill="#444"/>
<line x1="967.856" y1="422.685" x2="986.856" y2="426.685" stroke="#5a5a5a" stroke-width="6" stroke-linecap="round"/>
<line x1="968.103" y1="421.511" x2="987.103" y2="425.511" stroke="#787878" stroke-width="4.6" stroke-linecap="round"/>
<line x1="981.129" y1="424.764" x2="985.239" y2="425.629" stroke="#5c5c5c" stroke-width="11.4" stroke-linecap="round"/>
<line x1="981.376" y1="423.59" x2="984.899" y2="424.331" stroke="#747474" stroke-width="6" stroke-linecap="round"/>
<ellipse cx="986.706" cy="425.938" rx="2.88" ry="4.32" fill="#444"/>
<ellipse cx="1035.5" cy="449" rx="3.8" ry="5.6" fill="#fff" stroke="#2e2e2e" stroke-width="2.8" transform="rotate(20 1035.5 449)"/>
</g>
<g id="plates" filter="url(#b1)">
<polygon points="875,315 881,317.5 887,337 900,347 903,358 901,370 907,392 901,408 899,418 892,418 890,400 875,367 869,325" fill="#424242" />
<ellipse cx="897" cy="352" rx="3" ry="3.8" fill="#fff" />
<ellipse cx="879.5" cy="370" rx="3" ry="3.8" fill="#fff" />
<ellipse cx="896" cy="412" rx="3" ry="3.8" fill="#fff" />
<polyline points="927,321 932,325 936,350 946,359 952,382 951,407 942,422 937,419 934,400 922,377 925,367 919,332 927,321" fill="none" stroke="#3c3c3c" stroke-width="3.2" stroke-linejoin="round" stroke-linecap="round" />
<polyline points="925,337 940,368 948,395 942,410" fill="none" stroke="#3c3c3c" stroke-width="2.6" stroke-linejoin="round" stroke-linecap="round" />
<polyline points="925,367 946,362" fill="none" stroke="#3c3c3c" stroke-width="2.8" stroke-linejoin="round" stroke-linecap="round" />
<polyline points="930,385 948,378" fill="none" stroke="#3c3c3c" stroke-width="2.6" stroke-linejoin="round" stroke-linecap="round" />
<ellipse cx="942.5" cy="359" rx="3" ry="3.8" fill="#fff" stroke="#3c3c3c" stroke-width="2.2"/>
<ellipse cx="924.5" cy="376" rx="3" ry="3.8" fill="#fff" stroke="#3c3c3c" stroke-width="2.2"/>
<ellipse cx="941" cy="418" rx="3" ry="3.8" fill="#fff" stroke="#3c3c3c" stroke-width="2.2"/>
</g>
<g id="small" filter="url(#b1)">
<g filter="url(#rough)">
<path d="M75.4,65.4 L85,51.6 Q95,46 105,48.7 L118.6,53.6 L114.6,69.3 L104.8,85 L89,79 L76,72 Z" fill="url(#sh1)"/>
<path d="M120.5,63.4 L138,67 Q143,75 142,85 L140,108.6 L132,120 L106.8,106.6 L110.7,91 L118.6,77 Z" fill="url(#sh2)"/>
<path d="M65.5,80 L95,96.8 L89,108.6 L83,122 L87,134 L75,142 Q66,134 61.6,124 Q56,112 57.7,104.6 L61.6,87 Z" fill="url(#sh3)"/>
<path d="M97,114.5 L124.5,130 L118.6,144 Q112,152 104.8,153.8 L91,152.8 L84,142 L86,128 Z" fill="url(#sh4)"/>
</g>
<ellipse cx="92" cy="71" rx="3" ry="3" fill="#fff" />
<ellipse cx="132" cy="121" rx="2.5" ry="2.5" fill="#1a1a1a" />
<rect x="190" y="103" width="18" height="9" rx="2.5" fill="#7a7a7a" transform="rotate(8 199 107.5)"/>
<ellipse cx="205.5" cy="107.5" rx="2.6" ry="4.5" fill="#555" transform="rotate(8 199 107.5)"/>
<rect x="290.5" y="79.5" width="10" height="6" rx="2.5" fill="#7a7a7a" transform="rotate(90 295.5 82.5)"/>
<ellipse cx="298" cy="82.5" rx="2.6" ry="3" fill="#555" transform="rotate(90 295.5 82.5)"/>
<rect x="341.5" y="86" width="10" height="5.5" rx="2.5" fill="#7a7a7a" transform="rotate(95 346.5 88.75)"/>
<ellipse cx="349" cy="88.75" rx="2.6" ry="2.75" fill="#555" transform="rotate(95 346.5 88.75)"/>
<rect x="70" y="332" width="17" height="10" rx="2.5" fill="#7a7a7a" transform="rotate(8 78.5 337)"/>
<ellipse cx="84.5" cy="337" rx="2.6" ry="5" fill="#555" transform="rotate(8 78.5 337)"/>
<rect x="529" y="175" width="15" height="9" rx="2.5" fill="#7a7a7a" transform="rotate(8 536.5 179.5)"/>
<ellipse cx="541.5" cy="179.5" rx="2.6" ry="4.5" fill="#555" transform="rotate(8 536.5 179.5)"/>
<rect x="537" y="244" width="10" height="5" rx="2.5" fill="#555" transform="rotate(20 542 246.5)"/>
<ellipse cx="544.5" cy="246.5" rx="2.6" ry="2.5" fill="#555" transform="rotate(20 542 246.5)"/>
<rect x="529" y="320" width="9" height="4.5" rx="2.5" fill="#555" transform="rotate(25 533.5 322.25)"/>
<ellipse cx="535.5" cy="322.25" rx="2.6" ry="2.25" fill="#555" transform="rotate(25 533.5 322.25)"/>
<rect x="854" y="254" width="17" height="10" rx="2.5" fill="#7a7a7a" transform="rotate(5 862.5 259)"/>
<ellipse cx="868.5" cy="259" rx="2.6" ry="5" fill="#555" transform="rotate(5 862.5 259)"/>
<rect x="414" y="507" width="16" height="8" rx="2.5" fill="#7a7a7a" transform="rotate(10 422 511)"/>
<ellipse cx="427.5" cy="511" rx="2.6" ry="4" fill="#555" transform="rotate(10 422 511)"/>
<rect x="807" y="502" width="15" height="8" rx="2.5" fill="#7a7a7a" transform="rotate(12 814.5 506)"/>
<ellipse cx="819.5" cy="506" rx="2.6" ry="4" fill="#555" transform="rotate(12 814.5 506)"/>
<ellipse cx="369.5" cy="572" rx="12.4" ry="8" fill="#4e4e4e" transform="rotate(15 369.5 572)" />
<ellipse cx="369.5" cy="570" rx="11" ry="6.5" fill="#6a6a6a" transform="rotate(15 369.5 570)" />
<rect x="359.5" y="554" width="14" height="15" rx="3.5" fill="#505050" transform="rotate(-12 366 561)"/>
<ellipse cx="365" cy="556" rx="6" ry="3.5" fill="#6e6e6e" transform="rotate(-12 365 556)" />
<ellipse cx="553" cy="542" rx="9" ry="5" fill="#666" transform="rotate(25 553 542)" />
<rect x="551" y="526" width="9" height="14" rx="2.5" fill="#777" transform="rotate(15 555 533)"/>
<polyline points="546,548 552,538" fill="none" stroke="#555" stroke-width="4" stroke-linejoin="round" stroke-linecap="round" />
<ellipse cx="355.5" cy="534.7" rx="10" ry="6.3" fill="none" stroke="#484848" stroke-width="2" transform="rotate(-12 355.5 534.7)"/>
<ellipse cx="574.5" cy="505.2" rx="7" ry="3.6" fill="none" stroke="#3a3a3a" stroke-width="2" transform="rotate(25 574.5 505.2)"/>
<ellipse cx="459.5" cy="556" rx="15" ry="27.5" fill="#484848" transform="rotate(6 459.5 556)" />
<polygon points="463,529 480,534 504,542 504,578 490,580 462,583" fill="#6a6a6a" />
<polygon points="458,540 488,546 488,572 458,574" fill="#848484" />
<polygon points="488,543 505,541 505,573 499,579 486,578" fill="#484848" />
<polygon points="489.5,551 512,552 512,572 489.5,572" fill="#7a7a7a" />
<ellipse cx="513" cy="562" rx="5" ry="10" fill="#444" />
<ellipse cx="513.5" cy="562.5" rx="3.2" ry="7" fill="#8a8a8a" />
<ellipse cx="452" cy="556" rx="7.5" ry="24" fill="#5e5e5e" transform="rotate(6 452 556)" />
<polyline points="458,551 486,554" fill="none" stroke="#555" stroke-width="1.6" stroke-linejoin="round" stroke-linecap="round" />
<polyline points="462,571 470,571" fill="none" stroke="#aaa" stroke-width="2" stroke-linejoin="round" stroke-linecap="round" />
<polyline points="476,572 484,572" fill="none" stroke="#aaa" stroke-width="2" stroke-linejoin="round" stroke-linecap="round" />
<polygon points="773,590 790,588 791,583 818,585 818,622 786,619 785,611 774,608" fill="#6e6e6e" />
<polygon points="791,584 818,586 818,596 791,594" fill="#8a8a8a" />
<polyline points="783,597 805,598" fill="none" stroke="#505050" stroke-width="2" stroke-linejoin="round" stroke-linecap="round" />
<polyline points="790,612 812,614" fill="none" stroke="#555" stroke-width="1.6" stroke-linejoin="round" stroke-linecap="round" />
<ellipse cx="774" cy="599" rx="3.5" ry="9.5" fill="#767676" />
<ellipse cx="830.3" cy="606.8" rx="16.4" ry="27" fill="#4a4a4a" transform="rotate(6 830.3 606.8)" />
<ellipse cx="829.5" cy="607.5" rx="11.5" ry="20" fill="#585858" transform="rotate(6 829.5 607.5)" />
<ellipse cx="829" cy="608" rx="7" ry="12" fill="#4c4c4c" transform="rotate(6 829 608)" />
<ellipse cx="828.4" cy="608" rx="4" ry="5" fill="#8a8a8a" />
</g>
<g id="leaders">
<line x1="163" y1="59" x2="147" y2="85" stroke="#111" stroke-width="1.8" />
<line x1="75" y1="143" x2="58" y2="156" stroke="#222" stroke-width="1.5" stroke-dasharray="4 3"/>
<line x1="219" y1="61" x2="196" y2="104" stroke="#111" stroke-width="1.8" />
<line x1="320" y1="33" x2="296" y2="78" stroke="#111" stroke-width="1.8" />
<line x1="320" y1="33" x2="346" y2="82" stroke="#111" stroke-width="1.8" />
<line x1="571" y1="115" x2="546" y2="156" stroke="#111" stroke-width="1.8" />
<line x1="534" y1="184" x2="510" y2="220" stroke="#111" stroke-width="1.8" />
<line x1="501" y1="277" x2="546" y2="248" stroke="#111" stroke-width="1.8" />
<line x1="501" y1="277" x2="533" y2="319" stroke="#111" stroke-width="1.8" />
<line x1="39" y1="300" x2="72" y2="332" stroke="#111" stroke-width="1.8" />
<line x1="861" y1="197" x2="864" y2="254" stroke="#111" stroke-width="1.8" />
<line x1="1050" y1="236" x2="985" y2="270" stroke="#111" stroke-width="1.8" />
<line x1="1150" y1="250" x2="1124" y2="291" stroke="#111" stroke-width="1.8" />
<line x1="915" y1="294" x2="887" y2="335" stroke="#111" stroke-width="1.8" />
<line x1="971" y1="322" x2="950" y2="355" stroke="#111" stroke-width="1.8" />
<line x1="1014" y1="381" x2="987.5" y2="422" stroke="#111" stroke-width="1.8" />
<line x1="1067" y1="402" x2="1040" y2="443" stroke="#111" stroke-width="1.8" />
<line x1="912.5" y1="505" x2="889" y2="546" stroke="#111" stroke-width="1.8" />
<line x1="817" y1="511" x2="795" y2="547" stroke="#111" stroke-width="1.8" />
<line x1="810" y1="622" x2="786" y2="661" stroke="#111" stroke-width="1.8" />
<line x1="579" y1="511" x2="574" y2="592" stroke="#111" stroke-width="1.8" />
<line x1="550" y1="549" x2="514" y2="617.5" stroke="#111" stroke-width="1.8" />
<line x1="470" y1="572.5" x2="446" y2="612.5" stroke="#111" stroke-width="1.8" />
<line x1="422.5" y1="515" x2="418" y2="539" stroke="#111" stroke-width="1.8" />
<line x1="364" y1="574" x2="337.5" y2="615" stroke="#111" stroke-width="1.8" />
<line x1="301" y1="564.5" x2="349" y2="535" stroke="#111" stroke-width="1.8" />
<line x1="369" y1="417" x2="407" y2="699.5" stroke="#111" stroke-width="1.8" />
<line x1="675" y1="594" x2="407" y2="699.5" stroke="#111" stroke-width="1.8" />
</g>
<g id="labels">
<text transform="translate(150 52) scale(1 1)" font-size="32" font-weight="bold" class="lb" letter-spacing="-0.8">22</text>
<text transform="translate(224 70) scale(1 1)" font-size="32" font-weight="bold" class="lb">2</text>
<text transform="translate(25 172) scale(1 1)" font-size="32" font-weight="bold" class="lb" letter-spacing="-0.8">21</text>
<text transform="translate(320 30) scale(1 1)" font-size="32" font-weight="bold" class="lb">3</text>
<text transform="translate(574 119) scale(1 1)" font-size="32" font-weight="bold" class="lb">4</text>
<text transform="translate(495 247.5) scale(1 1)" font-size="32" font-weight="bold" class="lb">1</text>
<text transform="translate(479 294) scale(1 1)" font-size="32" font-weight="bold" class="lb">3</text>
<text transform="translate(24 301) scale(1 1)" font-size="32" font-weight="bold" class="lb">1</text>
<text transform="translate(857 190) scale(1 1)" font-size="32" font-weight="bold" class="lb">1</text>
<text transform="translate(1056 246) scale(1 1)" font-size="32" font-weight="normal" class="lb" stroke="#0a0a0a" stroke-width="0.75">7</text>
<text transform="translate(1146 244) scale(1 1)" font-size="32" font-weight="normal" class="lb" stroke="#0a0a0a" stroke-width="0.75">8</text>
<text transform="translate(916 297) scale(1 1)" font-size="32" font-weight="normal" class="lb" stroke="#0a0a0a" stroke-width="0.75">9</text>
<text transform="translate(971 332) scale(1 1)" font-size="32" font-weight="normal" class="lb" stroke="#0a0a0a" stroke-width="0.75" letter-spacing="-0.8">10</text>
<text transform="translate(1016 390) scale(1 1)" font-size="32" font-weight="normal" class="lb" stroke="#0a0a0a" stroke-width="0.75" letter-spacing="-0.8">11</text>
<text transform="translate(1066 406) scale(1 1)" font-size="32" font-weight="normal" class="lb" stroke="#0a0a0a" stroke-width="0.75" letter-spacing="-0.8">12</text>
<text transform="translate(870 575) scale(1 1)" font-size="32" font-weight="bold" class="lb" letter-spacing="-0.8">13</text>
<text transform="translate(785 576.5) scale(1 1)" font-size="32" font-weight="bold" class="lb">1</text>
<text transform="translate(768 700) scale(1 1)" font-size="32" font-weight="bold" class="lb" letter-spacing="-0.8">14</text>
<text transform="translate(560 629) scale(1 1)" font-size="32" font-weight="normal" class="lb" stroke="#0a0a0a" stroke-width="0.75" letter-spacing="-0.8">15</text>
<text transform="translate(497 650) scale(1 1)" font-size="32" font-weight="normal" class="lb" stroke="#0a0a0a" stroke-width="0.75" letter-spacing="-0.8">16</text>
<text transform="translate(415 641) scale(1 1)" font-size="32" font-weight="bold" class="lb" letter-spacing="-0.8">14</text>
<text transform="translate(407 572.5) scale(1 1)" font-size="32" font-weight="bold" class="lb">1</text>
<text transform="translate(315 652.5) scale(1 1)" font-size="32" font-weight="normal" class="lb" stroke="#0a0a0a" stroke-width="0.75" letter-spacing="-0.8">17</text>
<text transform="translate(267 595) scale(1 1)" font-size="32" font-weight="normal" class="lb" stroke="#0a0a0a" stroke-width="0.75" letter-spacing="-0.8">18</text>
<text transform="translate(381 733) scale(1 1)" font-size="32" font-weight="normal" class="lb" stroke="#0a0a0a" stroke-width="0.75" letter-spacing="-0.8">19</text>
</g>
<g id="logoS">
<path d="M1137,22 L1222,24 Q1230,24 1229,32 L1217,84 Q1215,92 1206,92 L1118,91 Q1108,91 1110,82 L1124,32 Q1127,22 1137,22 Z" fill="#000"/>
<ellipse cx="1168" cy="58" rx="45" ry="31" fill="#fff" transform="rotate(-6 1168 58)" />
<text class="logo" font-size="74" transform="translate(1124 85) scale(1.62 1) skewX(-4)">S</text>
</g>
<text class="logo" id="stels" font-size="37" stroke="#000" stroke-width="4.2" stroke-linejoin="round" letter-spacing="3" transform="translate(7 729.5) skewX(-58) scale(2.47 1)">STELS</text>
</svg>
</body></html>
